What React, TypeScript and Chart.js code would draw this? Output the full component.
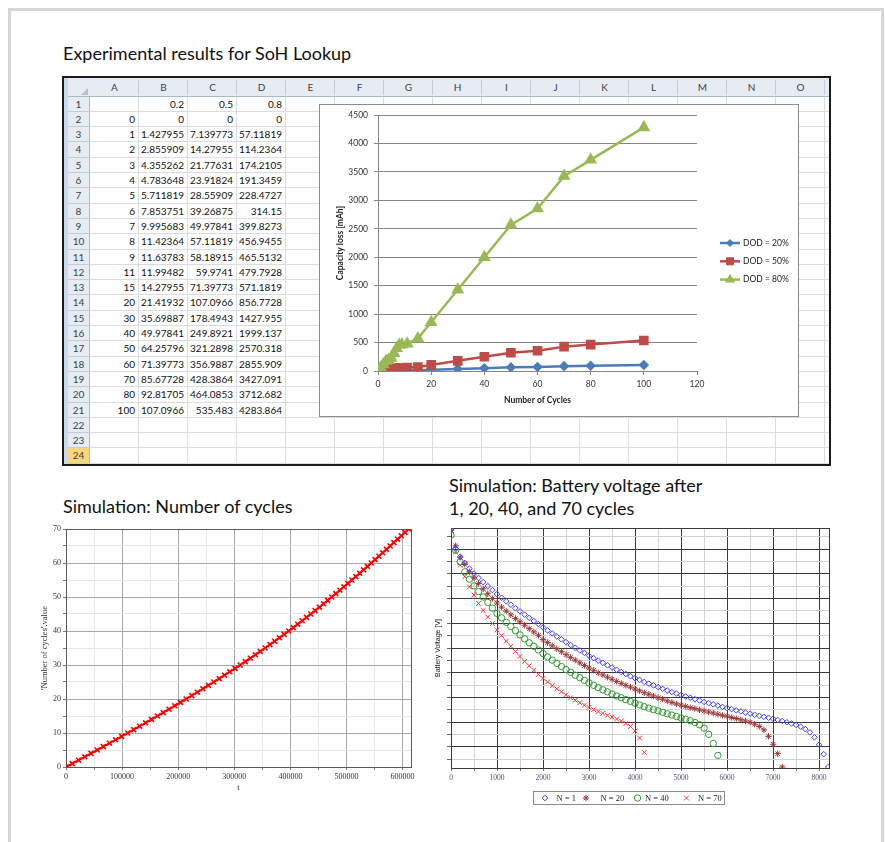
import React, { useEffect, useRef } from 'react';
import { Chart, registerables } from 'chart.js';

Chart.register(...registerables);

// ---------------- Spreadsheet / Excel chart data ----------------
const SHEET_COLUMNS = ['A', 'B', 'C', 'D', 'E', 'F', 'G', 'H', 'I', 'J', 'K', 'L', 'M', 'N', 'O'];
const DOD_HEADERS = ['0.2', '0.5', '0.8'];
const CYCLES = [0, 1, 2, 3, 4, 5, 6, 7, 8, 9, 11, 15, 20, 30, 40, 50, 60, 70, 80, 100];
const LOSS_DOD20 = [0, 1.427955, 2.855909, 4.355262, 4.783648, 5.711819, 7.853751, 9.995683, 11.42364, 11.63783, 11.99482, 14.27955, 21.41932, 35.69887, 49.97841, 64.25796, 71.39773, 85.67728, 92.81705, 107.0966];
const LOSS_DOD50 = [0, 7.139773, 14.27955, 21.77631, 23.91824, 28.55909, 39.26875, 49.97841, 57.11819, 58.18915, 59.9741, 71.39773, 107.0966, 178.4943, 249.8921, 321.2898, 356.9887, 428.3864, 464.0853, 535.483];
const LOSS_DOD80 = [0, 57.11819, 114.2364, 174.2105, 191.3459, 228.4727, 314.15, 399.8273, 456.9455, 465.5132, 479.7928, 571.1819, 856.7728, 1427.955, 1999.137, 2570.318, 2855.909, 3427.091, 3712.682, 4283.864];
const EXCEL_SERIES_LABELS = ['DOD = 20%', 'DOD = 50%', 'DOD = 80%'];

// ---------------- Simulation: number of cycles ----------------
const SIM_T = [0, 11200, 22400, 33500, 44600, 55600, 66600, 77500, 88400, 99200, 110000, 120700, 131300, 141900, 152400, 162900, 173300, 183600, 193900, 204100, 214200, 224200, 234100, 244000, 253800, 263500, 273100, 282600, 292000, 301300, 310500, 319600, 328600, 337500, 346300, 355000, 363600, 372100, 380500, 388800, 397000, 405100, 413100, 421000, 428800, 436500, 444100, 451600, 459000, 466400, 473700, 481000, 488200, 495400, 502500, 509600, 516600, 523600, 530500, 537400, 544200, 551000, 557800, 564500, 571200, 577900, 584500, 591100, 597700, 604300, 610900];
const SIM_CYCLES = [0, 1, 2, 3, 4, 5, 6, 7, 8, 9, 10, 11, 12, 13, 14, 15, 16, 17, 18, 19, 20, 21, 22, 23, 24, 25, 26, 27, 28, 29, 30, 31, 32, 33, 34, 35, 36, 37, 38, 39, 40, 41, 42, 43, 44, 45, 46, 47, 48, 49, 50, 51, 52, 53, 54, 55, 56, 57, 58, 59, 60, 61, 62, 63, 64, 65, 66, 67, 68, 69, 70];
const SIM_T_TICKS = [0, 50000, 100000, 150000, 200000, 250000, 300000, 350000, 400000, 450000, 500000, 550000, 600000];
const SIM_N_TICKS = [0, 5, 10, 15, 20, 25, 30, 35, 40, 45, 50, 55, 60, 65, 70];

// ---------------- Simulation: battery voltage ----------------
const VOLT_TIME = [0, 100, 200, 300, 400, 500, 600, 700, 800, 900, 1000, 1100, 1200, 1300, 1400, 1500, 1600, 1700, 1800, 1900, 2000, 2100, 2200, 2300, 2400, 2500, 2600, 2700, 2800, 2900, 3000, 3100, 3200, 3300, 3400, 3500, 3600, 3700, 3800, 3900, 4000, 4100, 4200, 4300, 4400, 4500, 4600, 4700, 4800, 4900, 5000, 5100, 5200, 5300, 5400, 5500, 5600, 5700, 5800, 5900, 6000, 6100, 6200, 6300, 6400, 6500, 6600, 6700, 6800, 6900, 7000, 7100, 7200, 7300, 7400, 7500, 7600, 7700, 7800, 7900, 8000, 8100, 8200];
const VOLT_N1 = [
  3.980, 3.903, 3.869, 3.844, 3.821, 3.801, 3.783, 3.766, 3.750, 3.734,
  3.718, 3.703, 3.689, 3.675, 3.661, 3.648, 3.635, 3.622, 3.609, 3.597,
  3.583, 3.571, 3.559, 3.547, 3.535, 3.524, 3.512, 3.501, 3.490, 3.480,
  3.469, 3.459, 3.449, 3.440, 3.430, 3.421, 3.412, 3.403, 3.395, 3.386,
  3.378, 3.371, 3.363, 3.356, 3.349, 3.342, 3.335, 3.328, 3.322, 3.316,
  3.310, 3.304, 3.299, 3.293, 3.288, 3.282, 3.277, 3.272, 3.267, 3.262,
  3.257, 3.253, 3.248, 3.244, 3.239, 3.235, 3.230, 3.226, 3.222, 3.218,
  3.214, 3.209, 3.205, 3.200, 3.195, 3.189, 3.182, 3.172, 3.159, 3.139,
  3.109, 3.071, 3.019];
const VOLT_N20 = [
  3.976, 3.913, 3.867, 3.838, 3.808, 3.784, 3.761, 3.739, 3.719, 3.700,
  3.682, 3.665, 3.649, 3.634, 3.619, 3.606, 3.592, 3.578, 3.565, 3.551,
  3.534, 3.522, 3.509, 3.497, 3.485, 3.473, 3.462, 3.451, 3.440, 3.429,
  3.419, 3.410, 3.400, 3.391, 3.382, 3.374, 3.365, 3.357, 3.349, 3.342,
  3.334, 3.327, 3.319, 3.313, 3.306, 3.299, 3.293, 3.286, 3.280, 3.274,
  3.269, 3.264, 3.259, 3.255, 3.250, 3.246, 3.241, 3.237, 3.232, 3.228,
  3.224, 3.219, 3.215, 3.210, 3.205, 3.200, 3.192, 3.183, 3.169, 3.143,
  3.111, 3.073, 3.019];
const VOLT_N40 = [
  3.956, 3.895, 3.848, 3.808, 3.778, 3.751, 3.728, 3.706, 3.684, 3.661,
  3.640, 3.622, 3.604, 3.587, 3.570, 3.553, 3.537, 3.521, 3.507, 3.492,
  3.478, 3.464, 3.451, 3.438, 3.425, 3.413, 3.402, 3.390, 3.380, 3.369,
  3.359, 3.349, 3.340, 3.331, 3.323, 3.314, 3.306, 3.299, 3.291, 3.284,
  3.277, 3.270, 3.263, 3.257, 3.251, 3.246, 3.240, 3.234, 3.229, 3.223,
  3.217, 3.212, 3.206, 3.199, 3.190, 3.176, 3.151, 3.114, 3.066];
const VOLT_N70 = [
  3.976, 3.888, 3.835, 3.788, 3.747, 3.714, 3.680, 3.652, 3.625, 3.599,
  3.573, 3.550, 3.528, 3.507, 3.486, 3.466, 3.446, 3.428, 3.410, 3.393,
  3.377, 3.363, 3.348, 3.335, 3.323, 3.311, 3.299, 3.289, 3.279, 3.269,
  3.260, 3.251, 3.243, 3.236, 3.228, 3.221, 3.213, 3.205, 3.195, 3.183,
  3.165, 3.136, 3.078];
const VOLT_LEGEND = ['N = 1', 'N = 20', 'N = 40', 'N = 70'];
const VOLT_TIME_TICKS = [0, 500, 1000, 1500, 2000, 2500, 3000, 3500, 4000, 4500, 5000, 5500, 6000, 6500, 7000, 7500, 8000];
const VOLT_GRID_TICKS = [3.05, 3.1, 3.15, 3.2, 3.25, 3.3, 3.35, 3.4, 3.45, 3.5, 3.55, 3.6, 3.65, 3.7, 3.75, 3.8, 3.85, 3.9, 3.95];

// ---------------- styling ----------------
const FONT_UI = 'Lato, "Noto Sans", sans-serif';
const FONT_SERIF = '"Liberation Serif", "DejaVu Serif", serif';
const FONT_ARIAL = '"Liberation Sans", Arial, sans-serif';
const HDR_BG = '#e7ecf2';

function drawMarker(ctx: CanvasRenderingContext2D, style: string, x: number, y: number, r: number, fill: string | null, stroke: string, lw: number) {
  ctx.save();
  ctx.beginPath();
  ctx.lineWidth = lw;
  ctx.strokeStyle = stroke;
  if (fill) ctx.fillStyle = fill;
  let fillable = true;
  if (style === 'rectRot') {
    ctx.moveTo(x, y - r); ctx.lineTo(x + r, y); ctx.lineTo(x, y + r); ctx.lineTo(x - r, y); ctx.closePath();
  } else if (style === 'rect') {
    const s = r * Math.SQRT1_2;
    ctx.rect(x - s, y - s, 2 * s, 2 * s);
  } else if (style === 'triangle') {
    ctx.moveTo(x, y - r);
    ctx.lineTo(x + r * Math.sin(2 * Math.PI / 3), y - r * Math.cos(2 * Math.PI / 3));
    ctx.lineTo(x + r * Math.sin(4 * Math.PI / 3), y - r * Math.cos(4 * Math.PI / 3));
    ctx.closePath();
  } else if (style === 'circle') {
    ctx.arc(x, y, r, 0, Math.PI * 2);
  } else if (style === 'crossRot') {
    const s = r * Math.SQRT1_2;
    ctx.moveTo(x - s, y - s); ctx.lineTo(x + s, y + s);
    ctx.moveTo(x + s, y - s); ctx.lineTo(x - s, y + s);
    fillable = false;
  } else if (style === 'star') {
    const s = r * Math.SQRT1_2;
    ctx.moveTo(x - s, y - s); ctx.lineTo(x + s, y + s);
    ctx.moveTo(x + s, y - s); ctx.lineTo(x - s, y + s);
    ctx.moveTo(x, y - r); ctx.lineTo(x, y + r);
    ctx.moveTo(x - r, y); ctx.lineTo(x + r, y);
    fillable = false;
  }
  if (fill && fillable) ctx.fill();
  ctx.stroke();
  ctx.restore();
}

const framePlugin = (id: string, color: string) => ({
  id,
  beforeDatasetsDraw(chart: any) {
    const { ctx, chartArea } = chart;
    ctx.save();
    ctx.strokeStyle = color;
    ctx.lineWidth = 1;
    ctx.strokeRect(chartArea.left + 0.5, chartArea.top + 0.5, chartArea.right - chartArea.left, chartArea.bottom - chartArea.top);
    ctx.restore();
  },
});

const excelLegendPlugin = {
  id: 'excelLegend',
  afterDraw(chart: any) {
    const ctx = chart.ctx;
    chart.data.datasets.forEach((ds: any, i: number) => {
      const y = 139 + i * 18.3;
      ctx.save();
      ctx.strokeStyle = ds.borderColor;
      ctx.lineWidth = 2.5;
      ctx.beginPath();
      ctx.moveTo(401, y);
      ctx.lineTo(421, y);
      ctx.stroke();
      ctx.restore();
      drawMarker(ctx, ds.pointStyle, 411, y, ds.pointRadius, ds.pointBackgroundColor, ds.pointBorderColor, 1);
      ctx.save();
      ctx.fillStyle = '#222';
      ctx.font = `8.5px ${FONT_UI}`;
      ctx.textBaseline = 'middle';
      ctx.textAlign = 'left';
      ctx.fillText(ds.label, 424, y);
      ctx.restore();
    });
  },
};

const voltLegendPlugin = {
  id: 'voltLegend',
  afterDraw(chart: any) {
    const ctx = chart.ctx;
    ctx.save();
    ctx.fillStyle = '#ffffff';
    ctx.fillRect(105.5, 276.5, 191, 13);
    ctx.strokeStyle = '#8a8a8a';
    ctx.lineWidth = 1;
    ctx.strokeRect(105.5, 276.5, 191, 13);
    ctx.restore();
    const markerX = [117, 158, 209.5, 258.5];
    const textX = [128.5, 172.5, 217, 270];
    const y = 283;
    chart.data.datasets.forEach((ds: any, i: number) => {
      drawMarker(ctx, ds.pointStyle, markerX[i], y, ds.pointRadius, null, ds.pointBorderColor, 1);
      ctx.save();
      ctx.fillStyle = '#222';
      ctx.font = `8.5px ${FONT_SERIF}`;
      ctx.textBaseline = 'middle';
      ctx.textAlign = 'left';
      ctx.fillText(VOLT_LEGEND[i], textX[i], y + 0.5);
      ctx.restore();
    });
  },
};

function excelConfig(): any {
  const mk = (vals: number[]) => vals.map((v, i) => ({ x: CYCLES[i], y: v }));
  const tickFont = { family: FONT_UI, size: 8.5 };
  const titleFont = { family: FONT_UI, size: 8.5, weight: 'bold' };
  return {
    type: 'line',
    data: {
      datasets: [
        { label: EXCEL_SERIES_LABELS[0], data: mk(LOSS_DOD20), order: 3, borderColor: '#4A7EBB', backgroundColor: '#4A7EBB', pointBackgroundColor: '#4A7EBB', pointBorderColor: '#4A7EBB', pointStyle: 'rectRot', pointRadius: 3.5, borderWidth: 2.5, tension: 0 },
        { label: EXCEL_SERIES_LABELS[1], data: mk(LOSS_DOD50), order: 2, borderColor: '#BE4B48', backgroundColor: '#BE4B48', pointBackgroundColor: '#BE4B48', pointBorderColor: '#BE4B48', pointStyle: 'rect', pointRadius: 5, borderWidth: 2.5, tension: 0 },
        { label: EXCEL_SERIES_LABELS[2], data: mk(LOSS_DOD80), order: 1, borderColor: '#98B954', backgroundColor: '#98B954', pointBackgroundColor: '#98B954', pointBorderColor: '#98B954', pointStyle: 'triangle', pointRadius: 5, borderWidth: 2.5, tension: 0 },
      ],
    },
    options: {
      responsive: false,
      animation: false,
      devicePixelRatio: 1,
      layout: { padding: { left: 0, right: 102, top: 11, bottom: 0 } },
      plugins: { legend: { display: false }, tooltip: { enabled: false } },
      scales: {
        x: {
          type: 'linear', min: 0, max: 120,
          ticks: { stepSize: 20, color: '#333', font: tickFont, padding: 4, maxRotation: 0, callback: (v: any) => String(v) },
          grid: { drawOnChartArea: false, drawTicks: true, tickLength: 4, color: '#868686' },
          border: { color: '#868686' },
          title: { display: true, text: 'Number of Cycles', color: '#222', font: titleFont, padding: { top: 0, bottom: 12 } },
          afterFit: (s: any) => { s.height = 46; },
        },
        y: {
          type: 'linear', min: 0, max: 4500,
          ticks: { stepSize: 500, color: '#333', font: tickFont, padding: 6, callback: (v: any) => String(v) },
          grid: { color: '#868686', tickLength: 4 },
          border: { color: '#868686' },
          title: { display: true, text: 'Capacity loss [mAh]', color: '#222', font: titleFont, padding: { top: 16, bottom: 0 } },
          afterFit: (s: any) => { s.width = 59; },
        },
      },
    },
    plugins: [excelLegendPlugin],
  };
}

function cyclesConfig(): any {
  const tickFont = { family: FONT_SERIF, size: 8 };
  return {
    type: 'scatter',
    data: {
      datasets: [{
        data: SIM_T.map((t, i) => ({ x: t, y: SIM_CYCLES[i] })),
        showLine: true, borderColor: '#ff0000', borderWidth: 2,
        pointStyle: 'crossRot', pointRadius: 3.5, pointBorderWidth: 1.6,
        pointBorderColor: '#ff0000', pointBackgroundColor: '#ff0000',
      }],
    },
    options: {
      responsive: false,
      animation: false,
      devicePixelRatio: 1,
      layout: { padding: { left: 0, right: 19, top: 14, bottom: 0 } },
      plugins: { legend: { display: false }, tooltip: { enabled: false } },
      scales: {
        x: {
          type: 'linear', min: 0, max: 615000,
          afterBuildTicks: (s: any) => { s.ticks = SIM_T_TICKS.map((v) => ({ value: v })); },
          ticks: { autoSkip: false, maxRotation: 0, padding: 2, color: '#333', font: tickFont, callback: (v: any) => (v % 100000 === 0 ? String(v) : '') },
          grid: { color: (c: any) => (c.tick && c.tick.value % 100000 === 0 ? '#a8a8a8' : '#e6e6e6'), tickLength: 3, tickColor: '#777' },
          border: { color: '#555' },
          title: { display: true, text: 't', color: '#333', font: { family: FONT_SERIF, size: 8.5 }, padding: { top: 0, bottom: 7 } },
          afterFit: (s: any) => { s.height = 33; },
        },
        y: {
          type: 'linear', min: 0, max: 70,
          afterBuildTicks: (s: any) => { s.ticks = SIM_N_TICKS.map((v) => ({ value: v })); },
          ticks: { autoSkip: false, padding: 2, color: '#333', font: tickFont, callback: (v: any) => (v % 10 === 0 ? String(v) : '') },
          grid: { color: (c: any) => (c.tick && c.tick.value % 10 === 0 ? '#a8a8a8' : '#e6e6e6'), tickLength: 3, tickColor: '#777' },
          border: { color: '#555' },
          title: { display: true, text: "'Number of cycles'.value", color: '#333', font: { family: FONT_SERIF, size: 8.5 }, padding: { top: 10, bottom: 0 } },
          afterFit: (s: any) => { s.width = 36; },
        },
      },
    },
    plugins: [framePlugin('frameCycles', '#5a5a5a')],
  };
}

function voltConfig(): any {
  const mk = (vals: number[]) => vals.map((v, i) => ({ x: VOLT_TIME[i], y: v }));
  const isMajorV = (v: number) => Math.abs(v * 10 - Math.round(v * 10)) < 1e-6;
  return {
    type: 'scatter',
    data: {
      datasets: [
        { label: VOLT_LEGEND[0], data: mk(VOLT_N1), pointStyle: 'rectRot', pointRadius: 2.8, pointBorderWidth: 1, pointBorderColor: '#3b3bff', pointBackgroundColor: 'rgba(0,0,0,0)' },
        { label: VOLT_LEGEND[1], data: mk(VOLT_N20), pointStyle: 'star', pointRadius: 3.2, pointBorderWidth: 1, pointBorderColor: '#9a3838', pointBackgroundColor: 'rgba(0,0,0,0)' },
        { label: VOLT_LEGEND[2], data: mk(VOLT_N40), pointStyle: 'circle', pointRadius: 3.2, pointBorderWidth: 1, pointBorderColor: '#2f9a2f', pointBackgroundColor: 'rgba(0,0,0,0)' },
        { label: VOLT_LEGEND[3], data: mk(VOLT_N70), pointStyle: 'crossRot', pointRadius: 3.4, pointBorderWidth: 1, pointBorderColor: '#ff3030', pointBackgroundColor: 'rgba(0,0,0,0)' },
      ],
    },
    options: {
      responsive: false,
      animation: false,
      devicePixelRatio: 1,
      layout: { padding: { left: 0, right: 9, top: 13, bottom: 0 } },
      plugins: { legend: { display: false }, tooltip: { enabled: false } },
      scales: {
        x: {
          type: 'linear', min: 0, max: 8215,
          afterBuildTicks: (s: any) => { s.ticks = VOLT_TIME_TICKS.map((v) => ({ value: v })); },
          ticks: { autoSkip: false, maxRotation: 0, padding: 2.5, color: '#4a5670', font: { family: FONT_SERIF, size: 7.5 }, callback: (v: any) => (v % 1000 === 0 ? String(v) : '') },
          grid: { color: (c: any) => (c.tick && c.tick.value % 1000 === 0 ? '#3a3a3a' : '#d2d2d2'), tickLength: 3, tickColor: '#777' },
          border: { color: '#555' },
          afterFit: (s: any) => { s.height = 47; },
        },
        y: {
          type: 'linear', min: 3.015, max: 3.985,
          afterBuildTicks: (s: any) => { s.ticks = VOLT_GRID_TICKS.map((v) => ({ value: v })); },
          ticks: { autoSkip: false, padding: 0, callback: () => '' },
          grid: { color: (c: any) => (c.tick && isMajorV(c.tick.value) ? '#3a3a3a' : '#d2d2d2'), tickLength: 4, tickColor: '#666' },
          border: { color: '#555' },
          title: { display: true, text: 'Battery Voltage [V]', color: '#222', font: { family: FONT_ARIAL, size: 7 }, padding: { top: 6, bottom: 0 } },
          afterFit: (s: any) => { s.width = 23; },
        },
      },
    },
    plugins: [framePlugin('frameVolt', '#3a3a3a'), voltLegendPlugin],
  };
}

function Sheet() {
  const X0 = 90;
  const COLW = 49;
  const HDR_T = 78;
  const HDR_B = 96.5;
  const ROWH = 15.3;
  const RIGHT = 829;
  const BOTTOM = 464;
  const nodes: any[] = [];
  const abs = (s: any) => ({ position: 'absolute', boxSizing: 'border-box', ...s });

  nodes.push(<div key="bd" style={abs({ left: 62, top: 76, width: 769, height: 390, border: '2px solid #1b1b1b', background: '#fff' })} />);
  nodes.push(<div key="strip" style={abs({ left: 64, top: 78, width: 4, height: BOTTOM - HDR_T, background: '#c9daee' })} />);
  nodes.push(<div key="colhdr" style={abs({ left: 68, top: HDR_T, width: RIGHT - 68, height: HDR_B - HDR_T, background: HDR_BG, borderBottom: '1px solid #a9b8ca' })} />);
  nodes.push(<div key="rowhdr" style={abs({ left: 68, top: HDR_B, width: X0 - 68, height: BOTTOM - HDR_B, background: HDR_BG, borderRight: '1px solid #a9b8ca' })} />);
  nodes.push(<div key="corner" style={abs({ left: 81, top: 88, width: 0, height: 0, borderLeft: '7px solid transparent', borderBottom: '7px solid #b9c0ca' })} />);

  // gridlines
  for (let k = 1; k <= 15; k++) {
    nodes.push(<div key={'vg' + k} style={abs({ left: X0 + k * COLW - 1, top: HDR_B, width: 1, height: BOTTOM - HDR_B, background: '#dadcdf' })} />);
    nodes.push(<div key={'vh' + k} style={abs({ left: X0 + k * COLW - 1, top: HDR_T + 2, width: 1, height: HDR_B - HDR_T - 4, background: '#c2ccd8' })} />);
  }
  for (let i = 1; i <= 24; i++) {
    const y = HDR_B + i * ROWH - 1;
    nodes.push(<div key={'hg' + i} style={abs({ left: X0, top: y, width: RIGHT - X0, height: 1, background: '#dadcdf' })} />);
    nodes.push(<div key={'hh' + i} style={abs({ left: 68, top: y, width: X0 - 68, height: 1, background: '#c2ccd8' })} />);
  }
  // column letters
  SHEET_COLUMNS.forEach((c, k) => {
    nodes.push(
      <div key={'cl' + k} style={abs({ left: X0 + k * COLW, top: HDR_T, width: COLW, height: HDR_B - HDR_T, lineHeight: `${HDR_B - HDR_T}px`, textAlign: 'center', fontSize: 10, color: '#3a3f48' })}>{c}</div>
    );
  });
  // row numbers
  for (let i = 1; i <= 24; i++) {
    const top = HDR_B + (i - 1) * ROWH;
    const sel = i === 24;
    nodes.push(
      <div key={'rn' + i} style={abs({ left: 68, top, width: X0 - 68 - 1, height: ROWH - 1, lineHeight: `${ROWH - 1}px`, textAlign: 'center', fontSize: 10, color: '#3a3f48', background: sel ? '#f8d679' : 'transparent' })}>{i}</div>
    );
  }
  // cell values
  const rows: string[][] = [['', ...DOD_HEADERS]];
  CYCLES.forEach((c, i) => rows.push([String(c), String(LOSS_DOD20[i]), String(LOSS_DOD50[i]), String(LOSS_DOD80[i])]));
  rows.forEach((r, ri) => {
    r.forEach((txt, ci) => {
      if (!txt) return;
      const top = HDR_B + ri * ROWH;
      nodes.push(
        <div key={`cell${ri}_${ci}`} style={abs({ left: X0 + ci * COLW, top, width: COLW - 1, height: ROWH - 1, lineHeight: `${ROWH - 1}px`, textAlign: 'right', paddingRight: 3, fontSize: 10, color: '#111', whiteSpace: 'nowrap' })}>{txt}</div>
      );
    });
  });
  return <>{nodes}</>;
}

export default function App() {
  const excelRef = useRef<HTMLCanvasElement>(null);
  const cyclesRef = useRef<HTMLCanvasElement>(null);
  const voltRef = useRef<HTMLCanvasElement>(null);

  useEffect(() => {
    const charts = [
      new Chart(excelRef.current as HTMLCanvasElement, excelConfig()),
      new Chart(cyclesRef.current as HTMLCanvasElement, cyclesConfig()),
      new Chart(voltRef.current as HTMLCanvasElement, voltConfig()),
    ];
    return () => charts.forEach((c) => c.destroy());
  }, []);

  const titleStyle: any = { position: 'absolute', fontFamily: FONT_UI, fontSize: 18, color: '#111', whiteSpace: 'nowrap', lineHeight: '23px' };

  return (
    <div style={{ position: 'absolute', left: 0, top: 0, width: 885, height: 842, overflow: 'hidden', background: '#fff', fontFamily: FONT_UI }}>
      <div style={{ position: 'absolute', left: 8, top: 8, width: 876, height: 850, boxSizing: 'border-box', border: '3px solid #d6d6d6' }} />
      <div style={{ ...titleStyle, left: 63, top: 42 }}>Experimental results for SoH Lookup</div>
      <Sheet />
      <div style={{ position: 'absolute', left: 319, top: 104, width: 480, height: 313, boxSizing: 'border-box', border: '1px solid #8c8c8c', background: '#fff' }}>
        <canvas ref={excelRef} width={480} height={313} style={{ position: 'absolute', left: -1, top: -1, width: 480, height: 313 }} />
      </div>
      <div style={{ ...titleStyle, left: 63, top: 495 }}>Simulation: Number of cycles</div>
      <div style={{ ...titleStyle, left: 449, top: 474 }}>Simulation: Battery voltage after<br />1, 20, 40, and 70 cycles</div>
      <canvas ref={cyclesRef} width={400} height={285} style={{ position: 'absolute', left: 30, top: 515, width: 400, height: 285 }} />
      <canvas ref={voltRef} width={410} height={300} style={{ position: 'absolute', left: 428, top: 515, width: 410, height: 300 }} />
    </div>
  );
}
